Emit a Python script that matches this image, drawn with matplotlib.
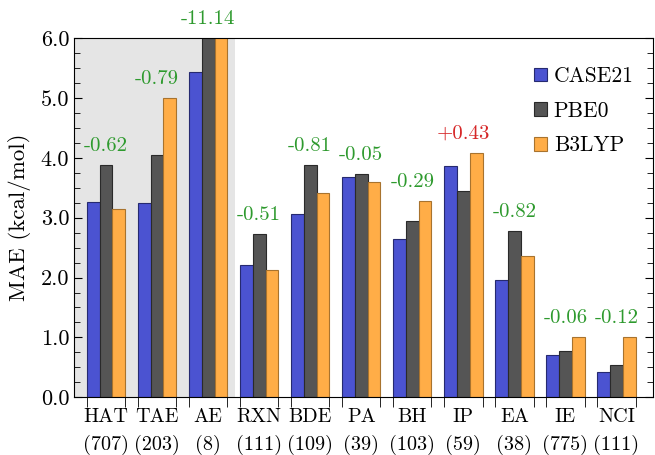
import matplotlib

matplotlib.use("Agg")
from matplotlib import pyplot as plt
import numpy as np

plt.rcParams["font.family"] = "serif"
plt.rcParams["font.serif"] = ["cmr10"]
plt.rcParams["mathtext.fontset"] = "cm"
plt.rcParams["axes.unicode_minus"] = False
plt.rcParams["axes.formatter.use_mathtext"] = True

# データ
sets = ["HAT", "TAE", "AE", "RXN", "BDE", "PA", "BH", "IP", "EA", "IE", "NCI"]
counts = ["(707)", "(203)", "(8)", "(111)", "(109)", "(39)", "(103)", "(59)", "(38)", "(775)", "(111)"]
case21 = [3.26, 3.25, 5.43, 2.21, 3.07, 3.68, 2.65, 3.87, 1.96, 0.71, 0.42]
pbe0 = [3.88, 4.04, 16.57, 2.72, 3.88, 3.73, 2.94, 3.44, 2.78, 0.77, 0.54]
b3lyp = [3.14, 5.00, 16.6, 2.12, 3.42, 3.60, 3.28, 4.09, 2.36, 1.00, 1.00]
diffs = ["-0.62", "-0.79", "-11.14", "-0.51", "-0.81", "-0.05", "-0.29", "+0.43", "-0.82", "-0.06", "-0.12"]

x = np.arange(len(sets))
w = 0.25

fig = plt.figure(figsize=(6.55, 4.55), dpi=100)
ax = fig.add_axes([0.113, 0.127, 0.884, 0.789])

# 灰色の背景
ax.axvspan(-1, 2.53, color="#e5e5e5", zorder=0, lw=0)

ax.bar(x - w, case21, w, color="#4b53d1", edgecolor="#262a70", lw=0.8, label="CASE21", zorder=2)
ax.bar(x, pbe0, w, color="#555555", edgecolor="#2a2a2a", lw=0.8, label="PBE0", zorder=2)
ax.bar(x + w, b3lyp, w, color="#ffad47", edgecolor="#a8732e", lw=0.8, label="B3LYP", zorder=2)

for i in range(len(sets)):
    top = min(max(case21[i], pbe0[i], b3lyp[i]), 6.0)
    col = "#d62728" if diffs[i].startswith("+") else "#2e9a2e"
    ax.text(x[i], top + 0.17, diffs[i], ha="center", va="bottom",
            color=col, fontsize=15, clip_on=False)

ax.set_xlim(-0.627, 10.715)
ax.set_ylim(0, 6)
ax.set_yticks(np.arange(0, 6.1, 1.0))
ax.set_yticklabels(["%.1f" % v for v in np.arange(0, 6.1, 1.0)])
ax.set_yticks(np.arange(0, 6.01, 0.25), minor=True)
ax.tick_params(axis="y", which="major", direction="in", length=6, labelsize=16, right=True)
ax.tick_params(axis="y", which="minor", direction="in", length=4, right=True)

ax.set_xticks(x)
ax.set_xticklabels([s + "\n" + c for s, c in zip(sets, counts)], fontsize=14.5, linespacing=1.6)
ax.set_xticks(np.concatenate([x - 0.375, x + 0.375]), minor=True)
ax.tick_params(axis="x", which="major", length=0, pad=8)
ax.tick_params(axis="x", which="minor", direction="out", length=7)

ax.set_ylabel("MAE (kcal/mol)", fontsize=16.5, labelpad=7)

ax.legend(loc="upper right", bbox_to_anchor=(1.0, 0.975), frameon=False, fontsize=15.5,
          handlelength=0.6, handleheight=0.6, handletextpad=0.3, labelspacing=0.7)

fig.savefig("out.png", dpi=100)
